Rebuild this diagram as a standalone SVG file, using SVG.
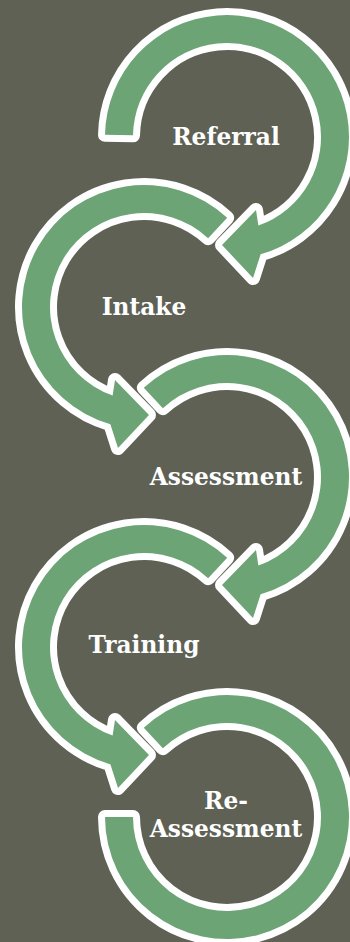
<svg xmlns="http://www.w3.org/2000/svg" width="350" height="942" viewBox="0 0 350 942">
<style>
.arr{fill:#6ca476;stroke:#ffffff;stroke-width:14;stroke-linejoin:round;paint-order:stroke}
.lbl{font-family:"DejaVu Serif","Liberation Serif",serif;font-weight:bold;font-size:23.3px;fill:#ffffff;text-anchor:middle}
</style>
<defs>
<path id="rarrow" d="M -83.20 -89.22 A 122 122 0 1 1 33.63 117.28 L 26 141 L -5 108 L 29 73 L 31.38 88.61 A 94 94 0 1 0 -64.11 -68.75 Z"/>
</defs>
<rect width="350" height="942" fill="#5e6154"/>
<g id="connectors">
<path class="arr" transform="translate(227,137)" d="M -121.98 -2.13 A 122 122 0 1 1 33.63 117.28 L 26 141 L -5 108 L 29 73 L 31.38 88.61 A 94 94 0 1 0 -93.99 -1.64 Z"/>
<use class="arr" href="#rarrow" transform="translate(144,307) scale(-1,1)"/>
<use class="arr" href="#rarrow" transform="translate(227,477)"/>
<use class="arr" href="#rarrow" transform="translate(144,647) scale(-1,1)"/>
<path class="arr" transform="translate(227,817)" d="M -83.20 -89.22 A 122 122 0 1 1 -122 0 L -94 0 A 94 94 0 1 0 -64.11 -68.75 Z"/>
</g>
<g id="referral"><text class="lbl" x="226" y="145">Referral</text></g>
<g id="intake"><text class="lbl" x="144" y="315">Intake</text></g>
<g id="assessment"><text class="lbl" x="226" y="485">Assessment</text></g>
<g id="training"><text class="lbl" x="144" y="653">Training</text></g>
<g id="reassessment"><text class="lbl" x="226" y="809">Re-</text><text class="lbl" x="226" y="837">Assessment</text></g>
</svg>
